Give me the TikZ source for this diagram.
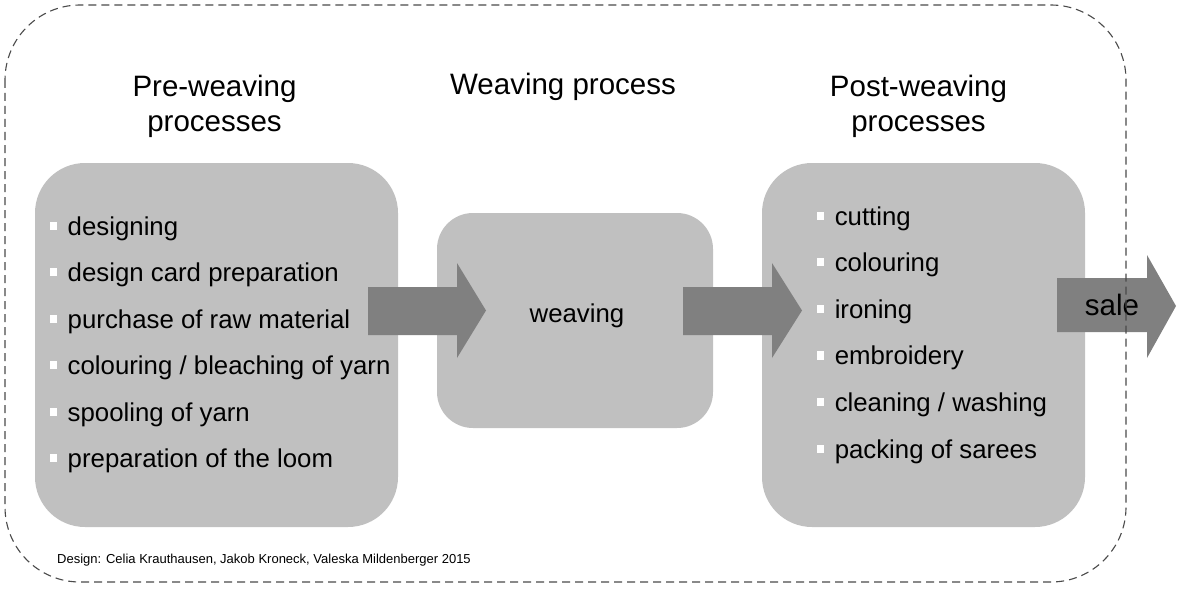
\documentclass[tikz,border=0pt]{standalone}
\usepackage{fontspec}
\setmainfont{Liberation Sans}
\usetikzlibrary{positioning}

\definecolor{boxgray}{HTML}{C0C0C0}
\definecolor{arrowgray}{HTML}{808080}
\definecolor{dashgray}{HTML}{4A4A4A}

% white square bullet
\newcommand{\sqbul}{{\color{white}\rule[0.2em]{0.28em}{0.32em}}\hspace{0.4em}}

\begin{document}
\begin{tikzpicture}[x=1pt, y=-1pt,
    stagebox/.style={fill=boxgray, draw=none, rounded corners=#1, inner sep=0pt},
    stagebox/.default=50pt,
    blockarrow/.style={fill=arrowgray},
    title/.style={font=\fontsize{29.5}{35}\selectfont, align=center, inner sep=0pt},
    item/.style={font=\fontsize{25.8}{30}\selectfont, anchor=base west, inner sep=0pt}]
    \useasboundingbox (0,0) rectangle (1177,599);

    % Boxes
    \node[stagebox, minimum width=363pt, minimum height=364pt] (pre) at (216.5,345) {};
    \node[stagebox=36pt, minimum width=276pt, minimum height=215pt] (weave) at (575,320.5) {};
    \node[stagebox, minimum width=323pt, minimum height=364pt] (post) at (923.5,345) {};

    % Block arrows
    \fill[blockarrow] (368,287) -- (457,287) -- (457,263) -- (486,310.5)
        -- (457,358) -- (457,335) -- (368,335) -- cycle;
    \fill[blockarrow] (683,287) -- (772,287) -- (772,263) -- (802,310.5)
        -- (772,358) -- (772,335) -- (683,335) -- cycle;
    \fill[blockarrow] (1057,278) -- (1147,278) -- (1147,255) -- (1176,306)
        -- (1147,358) -- (1147,332) -- (1057,332) -- cycle;

    % Titles
    \node[title] (pretitle) at (214.5,106) {Pre-weaving\\processes};
    \node[title, anchor=base] (weavetitle) at (563,95) {Weaving process};
    \node[title] (posttitle) at (918.5,106) {Post-weaving\\processes};

    % Pre-weaving steps
    \foreach \txt [count=\i] in {designing, design card preparation,
        purchase of raw material, colouring / bleaching of yarn,
        spooling of yarn, preparation of the loom}
      \node[item] (pre\i) at (50,{235+46.5*(\i-1)}) {\sqbul\txt};

    % Weaving
    \node[font=\fontsize{25.8}{30}\selectfont, anchor=base, inner sep=0pt] (weaving) at (577,322) {weaving};

    % Post-weaving steps
    \foreach \txt [count=\i] in {cutting, colouring, ironing, embroidery,
        cleaning / washing, packing of sarees}
      \node[item] (post\i) at (817,{225+46.6*(\i-1)}) {\sqbul\txt};

    % Sale
    \node[font=\fontsize{29.5}{35}\selectfont, anchor=base, inner sep=0pt] (sale) at (1112,315) {sale};

    % Frame
    \draw[dashgray, line width=1.1pt, dash pattern=on 8pt off 5pt, rounded corners=75pt]
        (5,5) rectangle (1126,582);

    % Credit
    \node[font=\fontsize{13}{15}\selectfont, anchor=base west, inner sep=0pt] (credit) at (57,563)
        {Design: Celia Krauthausen, Jakob Kroneck, Valeska Mildenberger 2015};
\end{tikzpicture}
\end{document}
